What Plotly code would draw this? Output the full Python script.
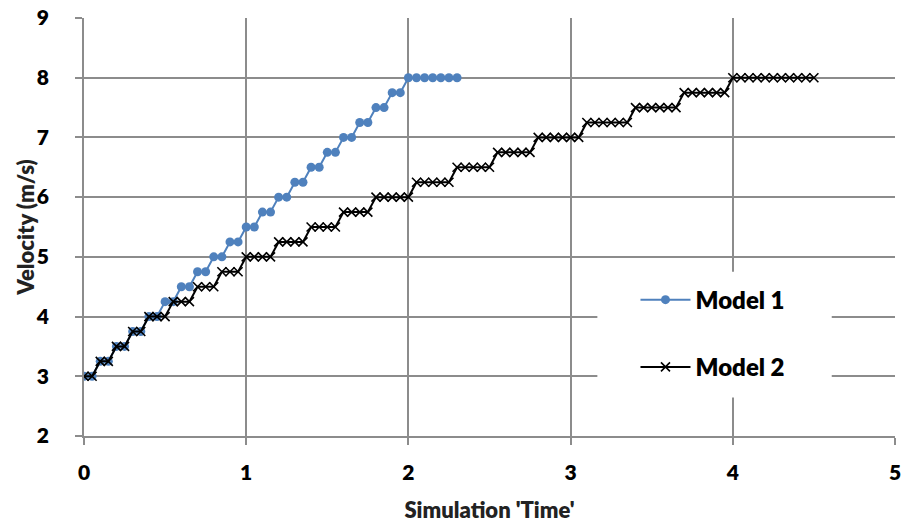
import plotly.graph_objects as go

# Model 1: velocity steps of 0.25 m/s, two samples per level, plateau at 8 m/s
t1 = [0.00, 0.05, 0.10, 0.15, 0.20, 0.25, 0.30, 0.35, 0.40, 0.45,
      0.50, 0.55, 0.60, 0.65, 0.70, 0.75, 0.80, 0.85, 0.90, 0.95,
      1.00, 1.05, 1.10, 1.15, 1.20, 1.25, 1.30, 1.35, 1.40, 1.45,
      1.50, 1.55, 1.60, 1.65, 1.70, 1.75, 1.80, 1.85, 1.90, 1.95,
      2.00, 2.05, 2.10, 2.15, 2.20, 2.25, 2.30]
v1 = [3.00, 3.00, 3.25, 3.25, 3.50, 3.50, 3.75, 3.75, 4.00, 4.00,
      4.25, 4.25, 4.50, 4.50, 4.75, 4.75, 5.00, 5.00, 5.25, 5.25,
      5.50, 5.50, 5.75, 5.75, 6.00, 6.00, 6.25, 6.25, 6.50, 6.50,
      6.75, 6.75, 7.00, 7.00, 7.25, 7.25, 7.50, 7.50, 7.75, 7.75,
      8.00, 8.00, 8.00, 8.00, 8.00, 8.00, 8.00]

# Model 2: same steps, but each level is held for longer as speed rises
t2 = [0.00, 0.05, 0.10, 0.15, 0.20, 0.25, 0.30, 0.35, 0.40, 0.45,
      0.50, 0.55, 0.60, 0.65, 0.70, 0.75, 0.80, 0.85, 0.90, 0.95,
      1.00, 1.05, 1.10, 1.15, 1.20, 1.25, 1.30, 1.35, 1.40, 1.45,
      1.50, 1.55, 1.60, 1.65, 1.70, 1.75, 1.80, 1.85, 1.90, 1.95,
      2.00, 2.05, 2.10, 2.15, 2.20, 2.25, 2.30, 2.35, 2.40, 2.45,
      2.50, 2.55, 2.60, 2.65, 2.70, 2.75, 2.80, 2.85, 2.90, 2.95,
      3.00, 3.05, 3.10, 3.15, 3.20, 3.25, 3.30, 3.35, 3.40, 3.45,
      3.50, 3.55, 3.60, 3.65, 3.70, 3.75, 3.80, 3.85, 3.90, 3.95,
      4.00, 4.05, 4.10, 4.15, 4.20, 4.25, 4.30, 4.35, 4.40, 4.45,
      4.50]
v2 = [3.00, 3.00, 3.25, 3.25, 3.50, 3.50, 3.75, 3.75, 4.00, 4.00,
      4.00, 4.25, 4.25, 4.25, 4.50, 4.50, 4.50, 4.75, 4.75, 4.75,
      5.00, 5.00, 5.00, 5.00, 5.25, 5.25, 5.25, 5.25, 5.50, 5.50,
      5.50, 5.50, 5.75, 5.75, 5.75, 5.75, 6.00, 6.00, 6.00, 6.00,
      6.00, 6.25, 6.25, 6.25, 6.25, 6.25, 6.50, 6.50, 6.50, 6.50,
      6.50, 6.75, 6.75, 6.75, 6.75, 6.75, 7.00, 7.00, 7.00, 7.00,
      7.00, 7.00, 7.25, 7.25, 7.25, 7.25, 7.25, 7.25, 7.50, 7.50,
      7.50, 7.50, 7.50, 7.50, 7.75, 7.75, 7.75, 7.75, 7.75, 7.75,
      8.00, 8.00, 8.00, 8.00, 8.00, 8.00, 8.00, 8.00, 8.00, 8.00,
      8.00]

x_ticks = [0, 1, 2, 3, 4, 5]
y_ticks = [2, 3, 4, 5, 6, 7, 8, 9]

BLUE = "#4F81BD"
GRID = "#8C8C8C"
FONT = "Lato"
WEIGHT = 800

fig = go.Figure()
fig.add_trace(go.Scatter(
    x=t1, y=v1, mode="lines+markers", name="Model 1",
    legendgroup="m1",
    line=dict(color=BLUE, width=2),
    marker=dict(symbol="circle", size=9, color=BLUE),
))
fig.add_trace(go.Scatter(
    x=t2, y=v2, mode="lines+markers", name="Model 2",
    legendgroup="m2",
    line=dict(color="black", width=2),
    marker=dict(symbol="x-thin", size=9,
                line=dict(color="black", width=1.6), color="black"),
))

# white panel behind the legend, interrupting the gridlines
fig.add_shape(type="rect", xref="paper", yref="paper",
              x0=0.633, x1=0.922, y0=0.092, y1=0.393,
              fillcolor="white", line=dict(width=0), layer="above")

# vertical axis title, placed a little clear of the tick labels
fig.add_annotation(
    text="Velocity (m/s)", textangle=-90, showarrow=False,
    xref="paper", yref="paper", x=-0.073, y=0.5,
    xanchor="center", yanchor="middle",
    font=dict(family=FONT, size=22, color="#222", weight=WEIGHT),
)

axis_common = dict(
    showgrid=True, gridcolor=GRID, gridwidth=1.6,
    zeroline=False, showline=True, linecolor=GRID, linewidth=1.6,
    ticks="outside", ticklen=7, tickwidth=1.6, tickcolor=GRID,
    tickfont=dict(family=FONT, size=21, color="black", weight=WEIGHT),
    automargin=False,
)

fig.update_xaxes(
    range=[0, 5], tickvals=x_ticks, ticktext=[str(v) for v in x_ticks],
    ticklabelstandoff=10,
    title=dict(text="Simulation 'Time'", standoff=20,
               font=dict(family=FONT, size=22, color="#222", weight=WEIGHT)),
    **axis_common,
)
fig.update_yaxes(
    range=[2, 9], tickvals=y_ticks, ticktext=[str(v) for v in y_ticks],
    ticklabelstandoff=22,
    **axis_common,
)

fig.update_layout(
    width=904, height=523,
    margin=dict(l=84, r=9, t=18, b=87),
    paper_bgcolor="white", plot_bgcolor="white",
    showlegend=True,
    legend=dict(
        x=0.68, y=0.379, xanchor="left", yanchor="top",
        bgcolor="rgba(0,0,0,0)",
        font=dict(family=FONT, size=24, color="black", weight=WEIGHT),
        traceorder="grouped", tracegroupgap=33,
        itemwidth=50,
    ),
)

fig.write_html("out.html")
